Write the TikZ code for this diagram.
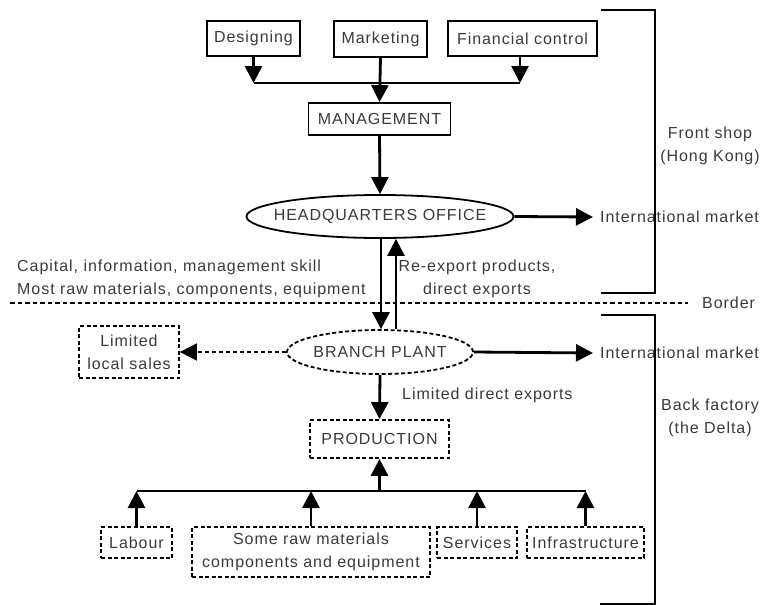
\documentclass[tikz,border=0pt]{standalone}
\usepackage{fontspec}
\setmainfont{Liberation Sans}[LetterSpace=6]
\usetikzlibrary{arrows.meta,shapes.geometric}
\definecolor{ink}{HTML}{3A3A3A}

\begin{document}
\begin{tikzpicture}[x=1pt,y=-1pt,
  every node/.style={font=\fontsize{16}{23}\selectfont, text=ink},
  conn/.style={line width=2.8pt},
  tip/.style={-{Triangle[length=17pt,width=17pt]}},
  arr/.style={conn,tip},
  sbox/.style={draw, line width=1.8pt, inner sep=0pt},
  dbox/.style={draw, line width=1.8pt, inner sep=0pt, dash pattern=on 4pt off 2.5pt},
  lbl/.style={inner sep=0pt},
  bracket/.style={line width=2.8pt},
  ]
\useasboundingbox (0,0) rectangle (766,605);

% Hong Kong side
\node[sbox, minimum width=93pt, minimum height=35pt] (des) at (253.5,38.5) {Designing};
\node[sbox, minimum width=93pt, minimum height=36pt] (mkt) at (380.5,39) {Marketing};
\node[sbox, minimum width=149pt, minimum height=35pt] (fin) at (522.5,38.5) {Financial control};
\node[sbox, minimum width=142pt, minimum height=32pt] (mgmt) at (379.5,119) {MANAGEMENT};
\node[ellipse, draw, line width=1.8pt, inner sep=0pt, minimum width=267pt, minimum height=43pt]
  (hq) at (380,216.5) {\makebox[0pt]{HEADQUARTERS OFFICE}};
\node[lbl, anchor=west, inner xsep=7pt] (intl1) at (593,217) {International market};

\coordinate (bus1) at (380,83);
\draw[conn] (des.south |- bus1) -- ([xshift=-2.5pt]fin.south |- bus1);
\draw[arr] (des.south) -- (des.south |- bus1);
\draw[arr] ([xshift=-2.5pt]fin.south) -- ([xshift=-2.5pt]fin.south |- bus1);
\draw[arr] (mkt.south) -- (mgmt.north);
\draw[arr] (mgmt.south) -- (hq.north);
\draw[arr] (hq.east) -- (intl1.west);

% flows across the border
\node[lbl, anchor=west, align=left] (inflow) at (17,278.5)
  {Capital, information, management skill\\Most raw materials, components, equipment};
\node[lbl, align=center] (outflow) at (477,278.5) {Re-export products,\\direct exports};

\draw[line width=1.8pt, dash pattern=on 4.5pt off 3pt] (10,303) -- (688,303);
\node[lbl, anchor=west] (border) at (702,303) {Border};

% Delta side
\node[ellipse, draw, line width=1.8pt, inner sep=0pt, dash pattern=on 4pt off 2.5pt,
  minimum width=186pt, minimum height=44pt] (bp) at (380,352) {\makebox[0pt]{BRANCH PLANT}};
\node[dbox, minimum width=100pt, minimum height=52pt, align=center] (lls) at (129,352)
  {Limited\\local sales};
\node[lbl, anchor=west, inner xsep=7pt] (intl2) at (593,353) {International market};
\node[dbox, minimum width=139pt, minimum height=38pt] (prod) at (379.5,439) {PRODUCTION};
\node[lbl, anchor=west] (lde) at (402,395) {Limited direct exports};

\draw[arr] ([xshift=1pt]hq.south) -- ([xshift=1pt]bp.north);
\draw[arr] ([xshift=16pt]bp.north) -- ([xshift=16pt]hq.south);
\draw[arr] (bp.east) -- (intl2.west);
\draw[line width=2pt, dash pattern=on 4pt off 3pt, tip] (bp.west) -- (lls.east);
\draw[arr] (bp.south) -- (prod.north);

% local inputs
\node[dbox, minimum width=71pt, minimum height=31pt] (lab) at (136.5,542.5) {Labour};
\node[dbox, minimum width=238pt, minimum height=50pt, align=center] (raw) at (311,552)
  {Some raw materials\\components and equipment};
\node[dbox, minimum width=80pt, minimum height=31pt] (svc) at (477,542.5) {Services};
\node[dbox, minimum width=117pt, minimum height=31pt] (inf) at (585.5,542.5) {Infrastructure};

\coordinate (bus2) at (380,491);
\draw[conn] (lab.north |- bus2) -- (inf.north |- bus2);
\draw[arr] (lab.north) -- (lab.north |- bus2);
\draw[arr] (raw.north) -- (raw.north |- bus2);
\draw[arr] (svc.north) -- (svc.north |- bus2);
\draw[arr] (inf.north) -- (inf.north |- bus2);
\draw[arr] (prod.south |- bus2) -- (prod.south);

% region brackets
\draw[bracket] (601,10) -- (655,10) -- (655,293) -- (601,293);
\draw[bracket] (601,315) -- (655,315) -- (655,604) -- (600,604);
\node[lbl, align=center] (front) at (710,145.5) {Front shop\\(Hong Kong)};
\node[lbl, align=center] (back) at (710,417.5) {Back factory\\(the Delta)};
\end{tikzpicture}
\end{document}
